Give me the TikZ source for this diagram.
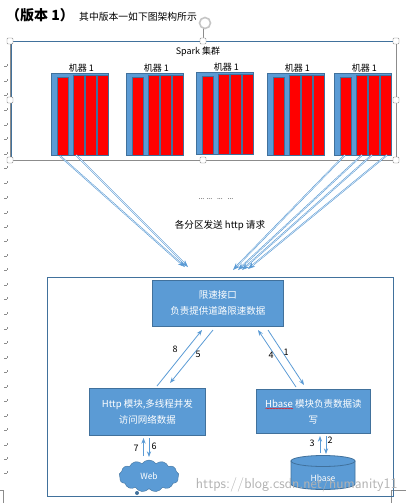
\documentclass[tikz,border=0pt]{standalone}
\usepackage{fontspec}
\setmainfont{Noto Sans CJK SC}
\usepackage{xcolor}
\definecolor{cBlue}{HTML}{5B9BD5}
\definecolor{cEdge}{HTML}{41719C}
\definecolor{cFrame}{HTML}{8C8C8C}
\usetikzlibrary{positioning,arrows.meta,shapes.symbols,decorations.pathmorphing}
\tikzset{
  machine-box/.style={draw=cEdge,thick,fill=cBlue,anchor=north west,minimum width=57pt,minimum height=82pt,inner sep=0pt},
  bar-red/.style={draw=cEdge,fill=red},
  label-text/.style={font=\fontsize{9}{11}\selectfont,inner sep=1pt,align=center},
  node-box/.style={draw=cEdge,thick,fill=cBlue,text=white,align=center,inner sep=1pt,font=\fontsize{9.5}{16}\selectfont},
  outer-box/.style={draw=cEdge,thick},
  handle/.style={draw=cFrame,fill=white,rounded corners=1pt,minimum size=6pt,inner sep=0pt},
  arrow/.style={-{Stealth[length=2mm]},draw=cBlue,thick},
  arrow-double/.style={-{Stealth[length=2.5mm]},draw=cBlue,semithick,double=white,double distance=0.4pt},
  para-mark/.style={draw=cFrame,line width=0.4pt},
}
\begin{document}
\begin{tikzpicture}[x=1pt,y=-1pt]
  \useasboundingbox (0,0) rectangle (406,503);
  \node[inner sep=0pt,anchor=west,font=\fontsize{14}{16}\selectfont\bfseries] (title) at (6,15) {（版本\ 1）};
  \node[label-text,anchor=west,font=\fontsize{9.8}{11}\selectfont] (intro) at (78,17) {其中版本一如下图架构所示};
  % ruler marks
  \foreach \y in {66,81,95,110,125,139,154,168,183,198,213,227,241,256,270,285,299,314,329,343,358,372,387,401,416,430,445,459,473}
    \draw[para-mark] (4,\y) -- (7,\y) (7,\y-2) -- (7,\y);
  \draw[para-mark] (0,490) -- (3,490) -- (3,503);
  \draw[para-mark] (406,490) -- (391,490) -- (391,503);
  % selection frame
  \draw[draw=cFrame,thick] (10,41) rectangle (396,160);
  \draw[draw=cEdge,thick] (11,160) -- (11,41) -- (396,41);
  \draw[draw=cFrame] (203,40) -- (203,28);
  \node[circle,draw=cFrame!50,line width=1.6pt,minimum size=11pt,inner sep=0pt] (rotate) at (205,23) {};
  \foreach \name/\x/\y in {h1/10/41,h2/203/41,h3/396/41,h4/10/100,h5/396/100,h6/10/160,h7/203/160,h8/396/160}
    \node[handle] (\name) at (\x,\y) {};
  \node[label-text] (spark) at (198,52) {Spark 集群};
  % machines
  \foreach \name/\x/\y in {m1/51/73,m2/126/73,m3/196/72,m4/267/73,m5/334/73}{
    \node[machine-box] (\name) at (\x,\y) {};
    \node[label-text,above=0pt of \name,xshift=1.5pt] (\name-label) {机器 1};
    \draw[bar-red] (\x+6,\y+4) rectangle (\x+17,\y+82);
    \draw[bar-red] (\x+22,\y+2) rectangle (\x+33,\y+82);
    \draw[bar-red] (\x+34,\y+2) rectangle (\x+45,\y+82);
    \draw[bar-red] (\x+46,\y+2) rectangle (\x+57,\y+82);
  }
  \node[label-text,font=\fontsize{7}{9}\selectfont] (dots) at (216,199) {... ...\ \ \ ...\ \ \ ...};
  \node[label-text,font=\fontsize{9.6}{11}\selectfont] (request) at (220,226) {各分区发送 http 请求};
  % lower block
  \draw[outer-box] (47.5,277) rectangle (393,496);
  \node[node-box,anchor=north west,minimum width=131pt,minimum height=46pt] (limit) at (152,280) {限速接口\\负责提供道路限速数据};
  \node[node-box,anchor=north west,minimum width=116pt,minimum height=47pt] (http) at (89,388) {Http 模块,多线程并发\\访问网络数据};
  \node[node-box,anchor=north west,minimum width=114pt,minimum height=44pt] (hbase) at (256,389) {Hbase 模块负责数据读\\写};
  \draw[red,decorate,decoration={snake,amplitude=0.5pt,segment length=3pt}] (265.5,408.5) -- (293,408.5);
  \node[cloud,cloud puffs=13,cloud puff arc=110,aspect=2,draw=cEdge,fill=cBlue,text=white,inner sep=0pt,minimum width=60pt,minimum height=32pt,font=\fontsize{8.5}{10}\selectfont] (web) at (149,476) {Web};
  \node[circle,fill=cEdge,minimum size=4pt,inner sep=0pt] (puff) at (137,493) {};
  % database drum
  \draw[draw=cEdge,thick,fill=cBlue] (291,461) -- (291,484) arc[start angle=180,end angle=360,x radius=32pt,y radius=5.5pt] -- (355,461) -- cycle;
  \draw[draw=cEdge,thick,fill=cBlue] (323,461) ellipse[x radius=32pt,y radius=5.5pt];
  \node[inner sep=0pt,text=white,font=\fontsize{8.5}{10}\selectfont] (store) at (323,478) {Hbase};
  % free ends of the connectors
  \foreach \name/\x/\y in {a1/60/156,a2/76/155,b1/185/267,b2/188/267,
      a3/345/155,a4/362/155,a5/372/155,a6/387/155,b3/233/270,b4/238/270,b5/242/270,b6/248/269,
      c8/157/386,d8/202/330,c5/213/330,d5/170/383,c4/296/387,d4/258/330,c1/268/330,d1/304/385,
      c7/143.5/456,d7/143.5/438,c6/149/438,d6/149/457,c3/320/453,d3/320/436,c2/326/436,d2/326/454}
    \coordinate (\name) at (\x,\y);
  \foreach \from/\to in {a1/b1,a2/b2,a3/b3,a4/b4,a5/b5,a6/b6}
    \draw[arrow-double] (\from) -- (\to);
  \foreach \from/\to in {c8/d8,c5/d5,c4/d4,c1/d1,c7/d7,c6/d6,c3/d3,c2/d2}
    \draw[arrow] (\from) -- (\to);
  \foreach \name/\x/\y/\txt in {l8/175/349/8,l5/198/354/5,l4/271/355/4,l1/286/352/1,l7/136/448/7,l6/154/446/6,l3/312/443/3,l2/330/440/2}
    \node[label-text] (\name) at (\x,\y) {\txt};
  \node[inner sep=0pt,anchor=east,text=black!30,font=\fontsize{14.5}{16}\sffamily] (mark) at (398,485) {https://blog.csdn.net/humanity11};
\end{tikzpicture}
\end{document}
